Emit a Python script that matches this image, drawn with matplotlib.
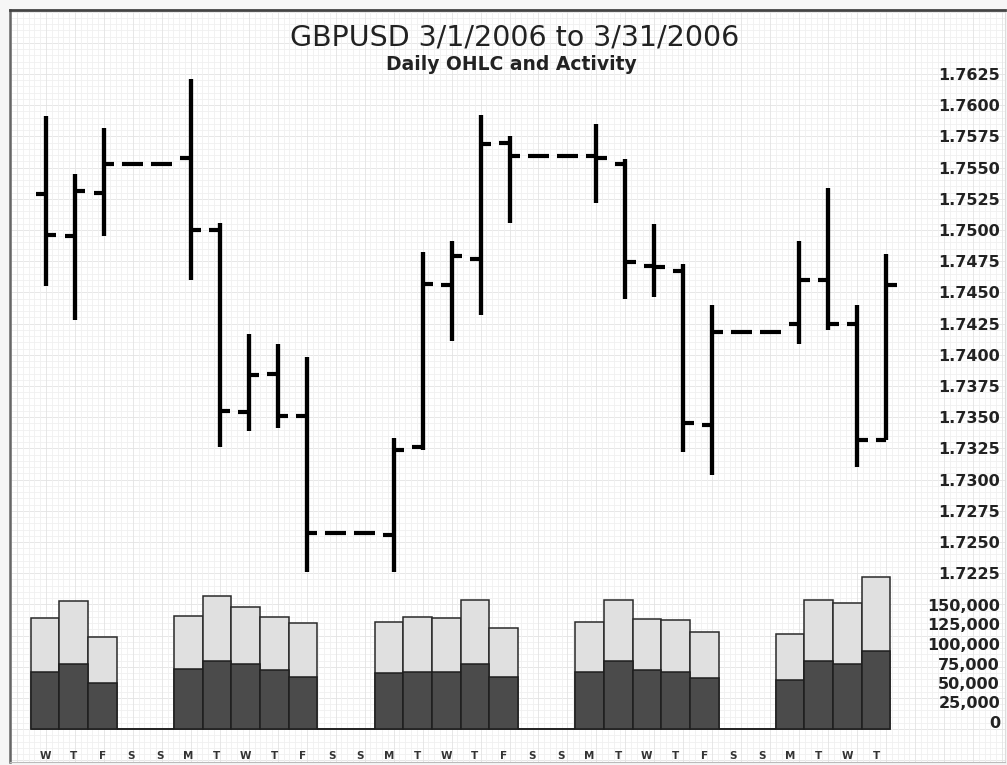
import numpy as np
import matplotlib
matplotlib.use("Agg")
import matplotlib.pyplot as plt
from matplotlib.transforms import ScaledTranslation

# March 2006, one entry per calendar day (3/1 .. 3/30); weekends flat at Friday close
days = ["W", "T", "F", "S", "S", "M", "T", "W", "T", "F", "S", "S", "M", "T", "W",
        "T", "F", "S", "S", "M", "T", "W", "T", "F", "S", "S", "M", "T", "W", "T"]

opens = [1.7529, 1.7495, 1.7530, 1.7553, 1.7553, 1.7558, 1.7500, 1.7354, 1.7385, 1.7351,
         1.7257, 1.7257, 1.7256, 1.7326, 1.7456, 1.7477, 1.7570, 1.7559, 1.7559, 1.7559,
         1.7553, 1.7471, 1.7467, 1.7344, 1.7418, 1.7418, 1.7425, 1.7460, 1.7425, 1.7332]
highs = [1.7591, 1.7545, 1.7582, 1.7553, 1.7553, 1.7621, 1.7506, 1.7417, 1.7409, 1.7398,
         1.7257, 1.7257, 1.7333, 1.7482, 1.7491, 1.7592, 1.7575, 1.7559, 1.7559, 1.7585,
         1.7557, 1.7505, 1.7473, 1.7440, 1.7418, 1.7418, 1.7491, 1.7534, 1.7440, 1.7481]
lows = [1.7455, 1.7428, 1.7495, 1.7553, 1.7553, 1.7460, 1.7326, 1.7339, 1.7341, 1.7226,
        1.7257, 1.7257, 1.7226, 1.7324, 1.7411, 1.7432, 1.7506, 1.7559, 1.7559, 1.7522,
        1.7445, 1.7446, 1.7322, 1.7304, 1.7418, 1.7418, 1.7409, 1.7420, 1.7310, 1.7332]
closes = [1.7496, 1.7531, 1.7553, 1.7553, 1.7553, 1.7500, 1.7355, 1.7384, 1.7351, 1.7257,
          1.7257, 1.7257, 1.7324, 1.7457, 1.7479, 1.7569, 1.7559, 1.7559, 1.7559, 1.7558,
          1.7474, 1.7470, 1.7345, 1.7418, 1.7418, 1.7418, 1.7460, 1.7425, 1.7332, 1.7456]

vol_dark = [72700, 83300, 59400, 0, 0, 77300, 87600, 83300, 75600, 67100, 0, 0,
            71400, 73100, 73100, 83300, 67100, 0, 0, 72700, 87600, 75200, 72700, 65800,
            0, 0, 62800, 87600, 83300, 100400]
vol_total = [141900, 164100, 117900, 0, 0, 145300, 170500, 156000, 143600, 135900, 0, 0,
             137200, 143600, 141900, 165800, 129500, 0, 0, 137600, 165800, 141400, 139300,
             123900, 0, 0, 121800, 165800, 162000, 194400]

price_ticks = np.arange(1.7225, 1.76251, 0.0025)
vol_ticks = np.arange(0, 150001, 25000)

W, H = 1007, 765


def px_rect(x0, y0, x1, y1):
    return [x0 / W, 1 - y1 / H, (x1 - x0) / W, (y1 - y0) / H]


fig = plt.figure(figsize=(W / 100, H / 100), dpi=100, facecolor="#f6f6f6")

# background panel with fine grid
bg = fig.add_axes(px_rect(10, 10, 1005, 762), zorder=0)
bg.set_facecolor("white")
bg.set_xlim(10, 1005)
bg.set_ylim(762, 10)
bg.set_xticks([])
bg.set_yticks([])
for k in range(-20, 140):
    y = 74 + k * 6.24
    if 10 < y < 762:
        bg.axhline(y, color="#e3e3e3" if k % 5 == 0 else "#f0f0f0", lw=0.6, zorder=0)
for k in range(-10, 180):
    x = 46 + k * 5.794
    if 10 < x < 1005:
        bg.axvline(x, color="#e3e3e3" if k % 5 == 0 else "#f0f0f0", lw=0.6, zorder=0)
bg.spines["top"].set_color("#444444")
bg.spines["left"].set_color("#666666")
bg.spines["top"].set_linewidth(2)
bg.spines["left"].set_linewidth(1.8)
bg.spines["right"].set_color("#dddddd")
bg.spines["bottom"].set_color("#bbbbbb")

# price panel
x = np.arange(len(days))
ax = fig.add_axes(px_rect(12, 20, 918, 595), zorder=2)
ax.patch.set_alpha(0)
step = 28.97
ax.set_xlim((12 - 46) / step, (918 - 46) / step)


def pv(y):
    return 1.7625 - (y - 74) * 0.0025 / 31.2


ax.set_ylim(pv(595), pv(20))
wk = np.array([d != "S" for d in days])
ax.vlines(x[wk], np.array(lows)[wk], np.array(highs)[wk], color="black", lw=3.1,
          capstyle="butt")
tick = 0.36
ax.hlines(opens, x - tick, x, color="black", lw=3.0, capstyle="butt")
ax.hlines(closes, x, x + tick, color="black", lw=3.0, capstyle="butt")
for s in ax.spines.values():
    s.set_visible(False)
ax.set_xticks([])
ax.yaxis.tick_right()
ax.set_yticks(price_ticks)
ax.set_yticklabels([f"{v:.4f}" for v in price_ticks], fontsize=11.5,
                   fontweight="bold", color="#222222")
ax.tick_params(axis="y", length=0, pad=(1000 - 918) * 0.72)
for lab in ax.get_yticklabels():
    lab.set_horizontalalignment("right")

# activity panel
av = fig.add_axes(px_rect(12, 560, 918, 740), zorder=3)
av.patch.set_alpha(0)
vstep = 28.66
av.set_xlim((12 - 45) / vstep, (918 - 45) / vstep)


def vv(y):
    return (729 - y) / 0.78 * 1000


av.set_ylim(vv(740), vv(560))
av.hlines(0, -0.5, len(days) - 0.5, color="#8a8a8a", lw=1.2, zorder=1)
av.bar(x, vol_total, width=1.0, color="#e0e0e0", edgecolor="#2a2a2a", lw=1.1, zorder=2)
av.bar(x, vol_dark, width=1.0, color="#4b4b4b", edgecolor="#1e1e1e", lw=1.1, zorder=3)
for s in av.spines.values():
    s.set_visible(False)
av.set_xticks(x)
av.set_xticklabels(days, fontsize=7.5, fontweight="bold", color="#333333")
av.tick_params(axis="x", length=0, pad=8)
av.yaxis.tick_right()
av.set_yticks(vol_ticks)
av.set_yticklabels([f"{v:,}" for v in vol_ticks], fontsize=11.5,
                   fontweight="bold", color="#222222")
av.tick_params(axis="y", length=0, pad=(1000 - 918) * 0.72)
shift = ScaledTranslation(0, 7 / 100, fig.dpi_scale_trans)
for lab in av.get_yticklabels():
    lab.set_horizontalalignment("right")
    lab.set_transform(lab.get_transform() + shift)

fig.text(515 / W, 1 - 46 / H, "GBPUSD 3/1/2006 to 3/31/2006", ha="center",
         va="baseline", fontsize=20.5, color="#222222", zorder=5)
fig.text(511 / W, 1 - 70.5 / H, "Daily OHLC and Activity", ha="center",
         va="baseline", fontsize=13.5, fontweight="bold", color="#222222", zorder=5)

fig.savefig("out.png", dpi=100, facecolor=fig.get_facecolor())
